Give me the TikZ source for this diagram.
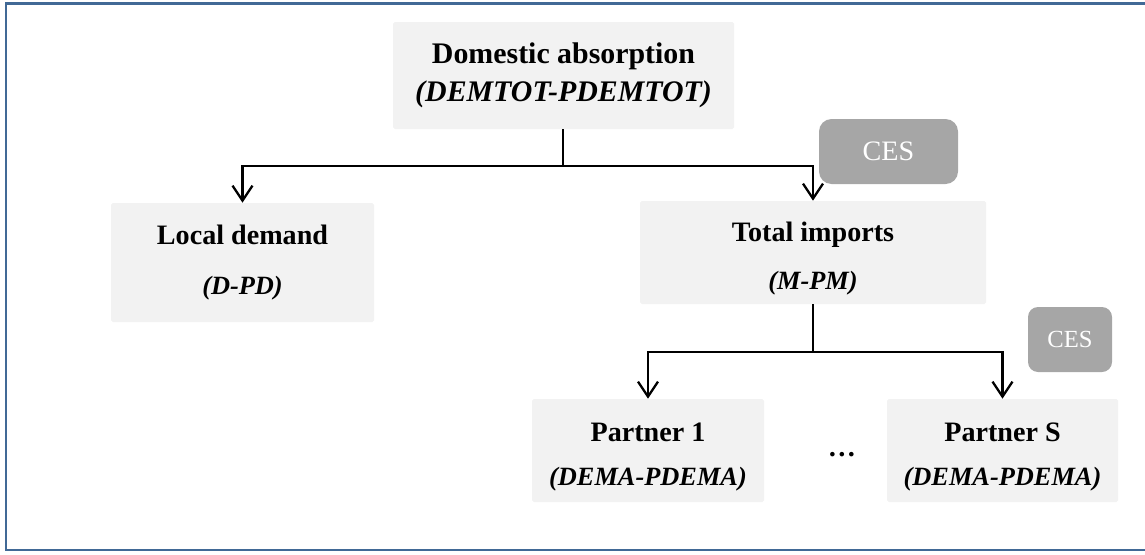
\documentclass[tikz,border=0pt]{standalone}
\usepackage{fontspec}
\setmainfont{Liberation Serif}
\usetikzlibrary{arrows.meta}
\definecolor{boxgray}{HTML}{F2F2F2}
\definecolor{cesgray}{HTML}{A6A6A6}
\definecolor{frameblue}{RGB}{65,105,150}

\begin{document}
\begin{tikzpicture}[
    box/.style={fill=boxgray,rounded corners=1pt,align=center,inner sep=0pt},
    ces/.style={fill=cesgray,rounded corners=2.5mm,text=white,inner sep=0pt},
    arr/.style={line width=1.3pt,-{Straight Barb[length=3mm,width=4mm]}}]
      \useasboundingbox (0,0) rectangle (22.9,-11.08);
      \draw[frameblue,line width=1.2pt] (0.12,-0.07) rectangle (23.2,-11.0);
      % top level
      \node[box,minimum width=6.82cm,minimum height=2.14cm] (dom) at (11.27,-1.51)
        {\fontsize{17}{22}\selectfont\textbf{Domestic absorption}\\[5pt]
         \fontsize{17}{22}\selectfont\textbf{\textit{(DEMTOT-PDEMTOT)}}};
      \node[ces,minimum width=2.78cm,minimum height=1.30cm] (ces1) at (17.77,-3.03)
        {\fontsize{16}{18}\selectfont CES};
      % second level
      \node[box,minimum width=5.26cm,minimum height=2.38cm] (local) at (4.85,-5.25)
        {\fontsize{16}{19}\selectfont\textbf{Local demand}\\[16pt]
         \fontsize{15}{18}\selectfont\textbf{\textit{(D-PD)}}};
      \node[box,minimum width=6.92cm,minimum height=2.06cm] (total) at (16.26,-5.05)
        {\fontsize{16}{19}\selectfont\rule{0pt}{18pt}\textbf{Total imports}\\[13pt]
         \fontsize{15}{18}\selectfont\textbf{\textit{(M-PM)}}};
      \node[ces,minimum width=1.68cm,minimum height=1.30cm,rounded corners=2mm] (ces2) at (21.40,-6.79)
        {\fontsize{14}{16}\selectfont CES};
      % partners
      \node[box,minimum width=4.64cm,minimum height=2.06cm] (p1) at (12.96,-9.01)
        {\fontsize{16}{19}\selectfont\rule{0pt}{18pt}\textbf{Partner 1}\\[13pt]
         \fontsize{15}{18}\selectfont\textbf{\textit{(DEMA-PDEMA)}}};
      \node[box,minimum width=4.62cm,minimum height=2.06cm] (pS) at (20.05,-9.01)
        {\fontsize{16}{19}\selectfont\rule{0pt}{18pt}\textbf{Partner S}\\[13pt]
         \fontsize{15}{18}\selectfont\textbf{\textit{(DEMA-PDEMA)}}};
      \node (dots) at (16.84,-9.10) {\fontsize{16}{18}\selectfont\textbf{\ldots}};
      % connectors
      \coordinate (j1) at (11.26,-3.32);
      \coordinate (j2) at (16.26,-7.04);
      \draw[line width=1.3pt] (dom.south -| j1) -- (j1);
      \draw[arr] (j1) -| (local.north);
      \draw[arr] (j1) -| (total.north);
      \draw[line width=1.3pt] (total.south) -- (j2);
      \draw[arr] (j2) -| (p1.north);
      \draw[arr] (j2) -| (pS.north);
\end{tikzpicture}
\end{document}
